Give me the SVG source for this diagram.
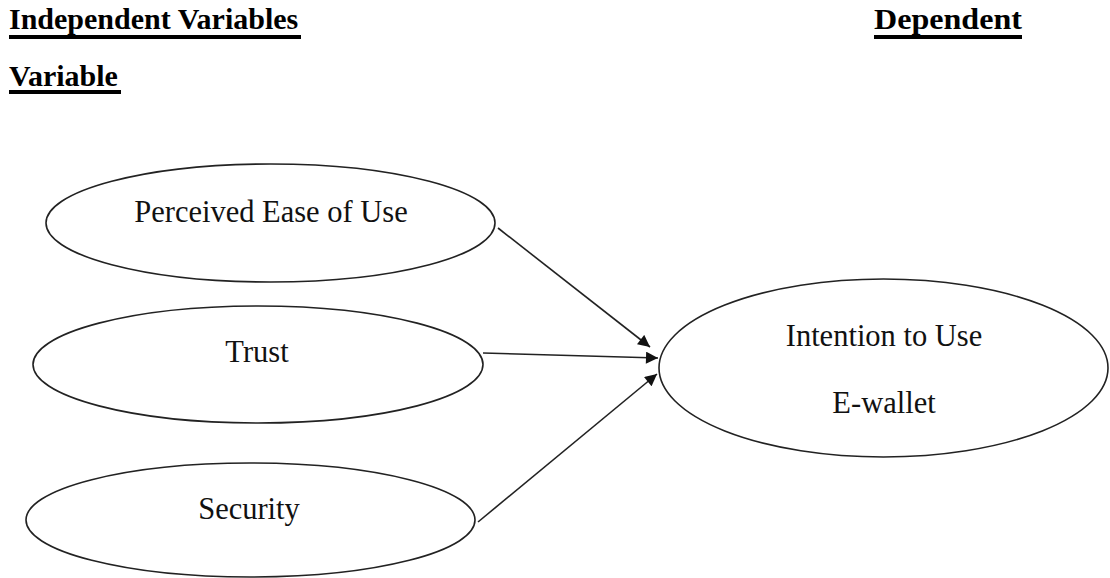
<svg xmlns="http://www.w3.org/2000/svg" width="1110" height="578" viewBox="0 0 1110 578">
<style>
.h{font-family:"Liberation Serif","Times New Roman",serif;font-weight:bold;font-size:30px;fill:#000}
.t{font-family:"Liberation Serif","Times New Roman",serif;font-size:30.5px;fill:#111;text-anchor:middle}
.e{fill:#fff;stroke:#222;stroke-width:1.6}
.c{stroke:#222;stroke-width:1.6;fill:none;marker-end:url(#ah)}
.u{fill:#000}
</style>
<defs>
<marker id="ah" viewBox="0 0 10 10" refX="10" refY="5" markerWidth="13" markerHeight="12" markerUnits="userSpaceOnUse" orient="auto">
<path d="M0,0 L10,5 L0,10 z" fill="#111"/>
</marker>
</defs>
<rect width="1110" height="578" fill="#fff"/>
<g id="headers">
<text class="h" x="9" y="29">Independent Variables</text>
<rect class="u" x="9" y="35" width="292" height="4"/>
<text class="h" x="874" y="29" textLength="148" lengthAdjust="spacingAndGlyphs">Dependent</text>
<rect class="u" x="874" y="35" width="148" height="4"/>
<text class="h" x="9" y="86">Variable</text>
<rect class="u" x="9" y="90" width="112" height="4"/>
</g>
<g id="connectors">
<line class="c" x1="498" y1="228" x2="650" y2="347"/>
<line class="c" x1="483" y1="353" x2="658" y2="358"/>
<line class="c" x1="478" y1="522" x2="657" y2="374"/>
</g>
<g id="peou">
<ellipse class="e" cx="270.5" cy="223" rx="224.5" ry="59"/>
<text class="t" x="271" y="222">Perceived Ease of Use</text>
</g>
<g id="trust">
<ellipse class="e" cx="258" cy="364.5" rx="225" ry="58.5"/>
<text class="t" x="257" y="362">Trust</text>
</g>
<g id="security">
<ellipse class="e" cx="250.5" cy="520" rx="224.5" ry="57"/>
<text class="t" x="249" y="519">Security</text>
</g>
<g id="intention">
<ellipse class="e" cx="883.5" cy="368" rx="224.5" ry="89"/>
<text class="t" x="884" y="346">Intention to Use</text>
<text class="t" x="884" y="413">E-wallet</text>
</g>
</svg>
